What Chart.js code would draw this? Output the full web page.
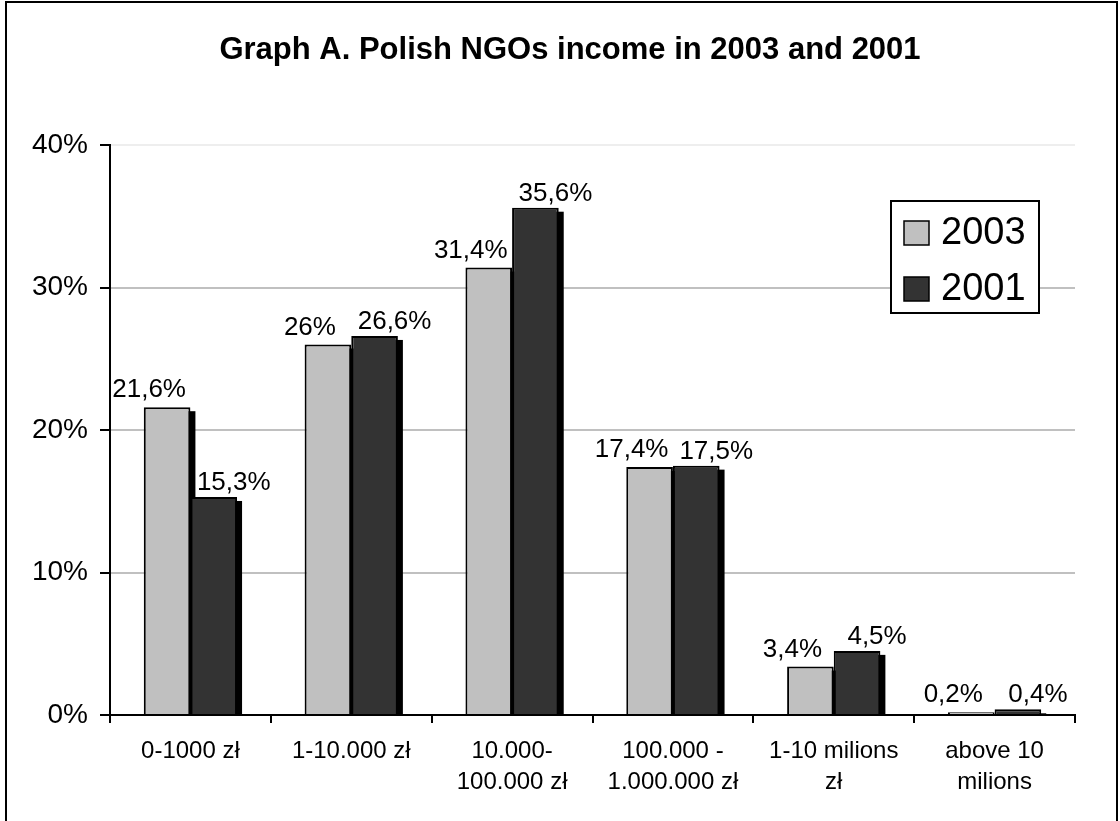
<!DOCTYPE html>
<html>
<head>
<meta charset="utf-8">
<script src="https://cdn.jsdelivr.net/npm/chart.js@4.4.1/dist/chart.umd.min.js"></script>
<style>
    body { margin: 0; background: #fff; }
    #wrap { width: 1120px; height: 821px; }
</style>
</head>
<body>
<div id="wrap"><canvas id="incomeChart" width="1120" height="821"></canvas></div>
<script>
// Dane z wykresu
const chartTitle = 'Graph A. Polish NGOs income in 2003 and 2001';
const categories = [
    '0-1000 zł',
    '1-10.000 zł',
    ['10.000-', '100.000 zł'],
    ['100.000 -', '1.000.000 zł'],
    ['1-10 milions', 'zł'],
    ['above 10', 'milions']
];
const income2003 = [21.6, 26, 31.4, 17.4, 3.4, 0.2];
const income2001 = [15.3, 26.6, 35.6, 17.5, 4.5, 0.4];
const yTicks = [0, 10, 20, 30, 40];

const FONT = "'Liberation Sans', Arial, sans-serif";

// cień pod słupkami (czarny, przesunięty w prawo i w dół)
const shadowPlugin = {
    id: 'barShadow',
    beforeDatasetsDraw(chart) {
        const ctx = chart.ctx;
        ctx.save();
        ctx.fillStyle = '#000';
        chart.data.datasets.forEach((ds, i) => {
            chart.getDatasetMeta(i).data.forEach(bar => {
                const left = bar.x - bar.width / 2 + 5;
                const top = bar.y + 4;
                const h = bar.base - top;
                if (h > 0) ctx.fillRect(left, top, bar.width, h);
            });
        });
        ctx.restore();
    }
};

// etykiety wartości
const labelPlugin = {
    id: 'valueLabels',
    afterDatasetsDraw(chart) {
        const ctx = chart.ctx;
        ctx.save();
        ctx.font = '26px ' + FONT;
        ctx.fillStyle = '#000';
        ctx.textAlign = 'center';
        ctx.textBaseline = 'alphabetic';
        chart.data.datasets.forEach((ds, i) => {
            const dx = i === 0 ? -18 : 20;
            const gap = i === 0 ? 10 : 7;
            chart.getDatasetMeta(i).data.forEach((bar, j) => {
                const txt = String(ds.data[j]).replace('.', ',') + '%';
                ctx.fillText(txt, bar.x + dx, bar.y - gap);
            });
        });
        ctx.restore();
    }
};

// tytuł, legenda w ramce + obramowanie całego wykresu
const framePlugin = {
    id: 'frame',
    beforeDraw(chart) {
        const ctx = chart.ctx;
        ctx.save();
        ctx.fillStyle = '#fff';
        ctx.fillRect(0, 0, chart.width, chart.height);
        ctx.restore();
    },
    afterDraw(chart) {
        const ctx = chart.ctx;
        const area = chart.chartArea;
        ctx.save();
        ctx.strokeStyle = '#000';
        ctx.lineWidth = 2;
        ctx.strokeRect(6, 2, chart.width - 9, chart.height + 20);

        ctx.fillStyle = '#000';
        ctx.font = 'bold 31px ' + FONT;
        ctx.textAlign = 'center';
        ctx.textBaseline = 'middle';
        ctx.fillText(chartTitle, 570, 50);

        const bw = 148, bh = 112;
        const bx = area.right - 36 - bw;
        const by = area.top + 56;
        ctx.fillStyle = '#fff';
        ctx.fillRect(bx, by, bw, bh);
        ctx.strokeRect(bx, by, bw, bh);

        ctx.font = '38px ' + FONT;
        ctx.textBaseline = 'middle';
        ctx.textAlign = 'left';
        chart.data.datasets.forEach((ds, i) => {
            const sy = by + 20 + i * 56;
            ctx.fillStyle = ds.backgroundColor;
            ctx.fillRect(bx + 13, sy, 25, 24);
            ctx.lineWidth = 1.5;
            ctx.strokeRect(bx + 13, sy, 25, 24);
            ctx.fillStyle = '#000';
            ctx.fillText(ds.label, bx + 50, sy + 13);
        });
        ctx.restore();
    }
};

const chart = new Chart(document.getElementById('incomeChart'), {
    type: 'bar',
    data: {
        labels: categories,
        datasets: [{
            label: '2003',
            data: income2003,
            backgroundColor: '#C0C0C0',
            borderColor: '#000',
            borderWidth: 2
        }, {
            label: '2001',
            data: income2001,
            backgroundColor: '#333333',
            borderColor: '#000',
            borderWidth: 2
        }]
    },
    options: {
        responsive: false,
        animation: false,
        layout: { padding: { left: 0, right: 45, top: 145, bottom: 0 } },
        datasets: {
            bar: { categoryPercentage: 0.58, barPercentage: 1.0 }
        },
        plugins: {
            legend: { display: false },
            tooltip: { enabled: false },
            title: { display: false }
        },
        scales: {
            x: {
                afterFit: s => { s.height = 106; },
                border: { display: true, color: '#000', width: 2 },
                grid: {
                    offset: true,
                    drawOnChartArea: false,
                    tickLength: 8,
                    tickColor: '#000',
                    lineWidth: 2
                },
                ticks: {
                    color: '#000',
                    padding: 13,
                    maxRotation: 0,
                    autoSkip: false,
                    font: { family: FONT, size: 24, lineHeight: 1.3 }
                }
            },
            y: {
                min: yTicks[0],
                max: yTicks[yTicks.length - 1],
                afterFit: s => { s.width = 110; },
                afterBuildTicks: s => { s.ticks = yTicks.map(v => ({ value: v })); },
                border: { display: true, color: '#000', width: 2 },
                grid: {
                    color: c => c.tick.value === 0 ? 'rgba(0,0,0,0)' : (c.tick.value === 40 ? '#eeeeee' : '#C0C0C0'),
                    tickColor: '#000',
                    tickLength: 10,
                    lineWidth: 2
                },
                ticks: {
                    color: '#000',
                    padding: 12,
                    font: { family: FONT, size: 28 },
                    callback: v => v + '%'
                }
            }
        }
    },
    plugins: [shadowPlugin, labelPlugin, framePlugin]
});
</script>
</body>
</html>
